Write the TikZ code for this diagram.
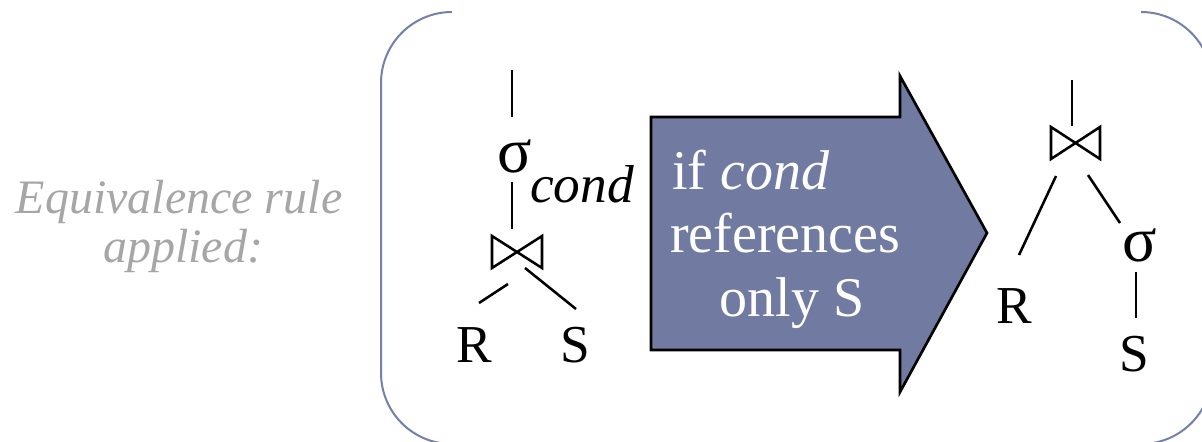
\documentclass[tikz,border=0pt]{standalone}
\usepackage{fontspec}
\newfontfamily\timesf{Liberation Serif}
\definecolor{arrowfill}{RGB}{113,123,161}
\definecolor{brk}{RGB}{117,128,170}
\definecolor{lbl}{RGB}{166,166,166}
\begin{document}
\begin{tikzpicture}[x=0.75pt,y=-0.75pt,
  edge/.style={line width=1.9pt,black},
  bracket/.style={line width=1.5pt,brk},
  joinsym/.style={line width=1.9pt,black,line join=miter},
  treetext/.style={inner sep=0pt,anchor=base,font=\fontsize{40}{40}\selectfont\timesf},
  sigtext/.style={inner sep=0pt,anchor=base,font=\fontsize{48}{48}\selectfont\timesf},
  arrowtext/.style={inner sep=0pt,anchor=base,text=white,font=\fontsize{42}{42}\selectfont\timesf},
  labeltext/.style={inner sep=0pt,anchor=base,text=lbl,font=\fontsize{36}{36}\selectfont\timesf\itshape},
  bigarrow/.style={draw=black,line width=2pt,fill=arrowfill,line join=miter}]
\useasboundingbox (0,0) rectangle (1202,442);
% label
\node[labeltext] (lab1) at (179,213) {Equivalence rule};
\node[labeltext] (lab2) at (183,262) {applied:};
% brackets
\draw[bracket] (452,12) .. controls (412.8,12) and (381,43.8) .. (381,83) -- (381,373) .. controls (381,412.2) and (412.8,444) .. (452,444);
\draw[bracket] (1141,12) .. controls (1180.2,12) and (1212,43.8) .. (1212,83) -- (1212,373) .. controls (1212,412.2) and (1180.2,444) .. (1141,444);
% arrow
\draw[bigarrow] (651,117) -- (900,117) -- (900,76) -- (987,233) -- (900,392) -- (900,350) -- (651,350) -- cycle;
\node[arrowtext,anchor=base west] (a1) at (672,190) {if \textit{cond}};
\node[arrowtext] (a2) at (785,252) {references};
\node[arrowtext] (a3) at (792,316) {only S};
% left tree
\node[sigtext] (sig1) at (515,172) {σ};
\node[treetext,anchor=base west,font=\fontsize{40}{40}\selectfont\timesf\itshape] (cond) at (530,202) {cond};
\node[treetext] (R1) at (474,362) {R};
\node[treetext] (S1) at (575,362) {S};
\coordinate (top1) at (512,70);
\coordinate (sig1n) at (512,117);
\coordinate (sig1s) at (512,182);
\coordinate (j1n) at (512,229);
\coordinate (j1l) at (508,284);
\coordinate (j1r) at (525,268);
\coordinate (R1n) at (479,303);
\coordinate (S1n) at (576,309);
\draw[edge] (top1) -- (sig1n);
\draw[edge] (sig1s) -- (j1n);
\draw[edge] (j1l) -- (R1n);
\draw[edge] (j1r) -- (S1n);
\draw[joinsym] (492,236) -- (542,268) -- (542,236) -- (492,268) -- cycle;
% right tree
\node[treetext] (R2) at (1014,323) {R};
\node[sigtext] (sig2) at (1140,261) {σ};
\node[treetext] (S2) at (1134,371) {S};
\coordinate (top2) at (1072,80);
\coordinate (j2n) at (1072,126);
\coordinate (j2l) at (1056,176);
\coordinate (j2r) at (1088,175);
\coordinate (R2n) at (1019,255);
\coordinate (sig2n) at (1120,223);
\coordinate (sig2s) at (1136,272);
\coordinate (S2n) at (1136,318);
\draw[edge] (top2) -- (j2n);
\draw[edge] (j2l) -- (R2n);
\draw[edge] (j2r) -- (sig2n);
\draw[edge] (sig2s) -- (S2n);
\draw[joinsym] (1051,127) -- (1100,159) -- (1100,127) -- (1051,159) -- cycle;
\end{tikzpicture}
\end{document}
